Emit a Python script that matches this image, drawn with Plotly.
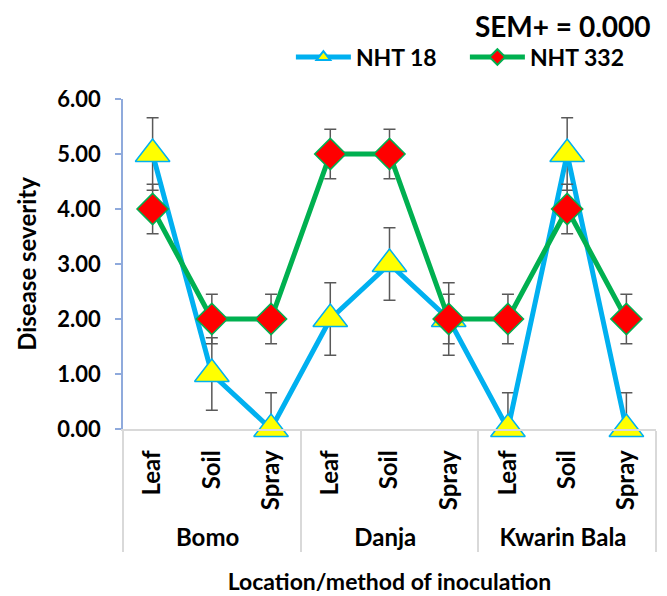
import plotly.graph_objects as go

locations = ["Bomo", "Bomo", "Bomo", "Danja", "Danja", "Danja", "Kwarin Bala", "Kwarin Bala", "Kwarin Bala"]
methods = ["Leaf", "Soil", "Spray", "Leaf", "Soil", "Spray", "Leaf", "Soil", "Spray"]
nht18 = [5, 1, 0, 2, 3, 2, 0, 5, 0]
nht332 = [4, 2, 2, 5, 5, 2, 2, 4, 2]
err18 = [0.66] * 9
err332 = [0.45] * 9
y_ticks = [0, 1, 2, 3, 4, 5, 6]

FONT = "Lato"
x = [locations, methods]

def minus(vals, errs):
    return [min(e, v) for v, e in zip(vals, errs)]

fig = go.Figure()
fig.add_trace(go.Scatter(
    x=x, y=nht18, name="NHT 18", mode="lines+markers",
    line=dict(color="#00B0F0", width=5),
    marker=dict(symbol="triangle-up", size=30, color="#FFFF00",
                line=dict(color="#00B0F0", width=1.5)),
    error_y=dict(type="data", array=err18, arrayminus=minus(nht18, err18),
                 color="#595959", thickness=1.5, width=6),
    cliponaxis=False,
))
fig.add_trace(go.Scatter(
    x=x, y=nht332, name="NHT 332", mode="lines+markers",
    line=dict(color="#00B050", width=5),
    marker=dict(symbol="diamond", size=24, color="#FF0000",
                line=dict(color="#00B050", width=1.5)),
    error_y=dict(type="data", array=err332, arrayminus=minus(nht332, err332),
                 color="#595959", thickness=1.5, width=6),
    cliponaxis=False,
))

# page body adds an 8px offset; figure sized/offset to compensate
fig.update_layout(
    width=659, height=588,
    margin=dict(l=115, r=11, t=91, b=167, autoexpand=False),
    paper_bgcolor="white", plot_bgcolor="white",
    font=dict(family=FONT, size=22, color="black", weight="bold"),
    showlegend=True,
    legend=dict(orientation="h", x=0.315, y=1.127, xanchor="left", yanchor="middle",
                itemwidth=55, entrywidth=104, font=dict(size=23, weight="bold"),
                bgcolor="rgba(0,0,0,0)", tracegroupgap=0, itemsizing="constant"),
    title=dict(text="SEM+ = 0.000", x=0.975, xanchor="right", y=0.968, yanchor="middle",
               font=dict(size=28, family=FONT, weight="bold", color="black")),
    xaxis=dict(
        type="multicategory", range=[-0.5, 8.5], tickangle=-90,
        showline=True, linecolor="#D9D9D9", linewidth=1.5,
        showdividers=True, dividercolor="#D9D9D9", dividerwidth=2,
        ticks="", showgrid=False, automargin=False, ticklabelstandoff=10,
        tickfont=dict(size=24, family=FONT, weight="bold"),
        title=dict(text="Location/method of inoculation", standoff=24,
                   font=dict(size=23, family=FONT, weight="bold")),
    ),
    yaxis=dict(
        range=[0, 6], tickvals=y_ticks, tickformat=".2f",
        showline=True, linecolor="#8FAADC", linewidth=1.5,
        ticks="outside", tickcolor="#8FAADC", ticklen=6, tickwidth=1.5,
        showgrid=False, zeroline=False, automargin=False, ticklabelstandoff=10,
        tickfont=dict(size=22, family=FONT, weight="bold"),
        title=dict(text="Disease severity", font=dict(size=24, family=FONT, weight="bold"), standoff=14),
    ),
)

fig.write_html("out.html")
